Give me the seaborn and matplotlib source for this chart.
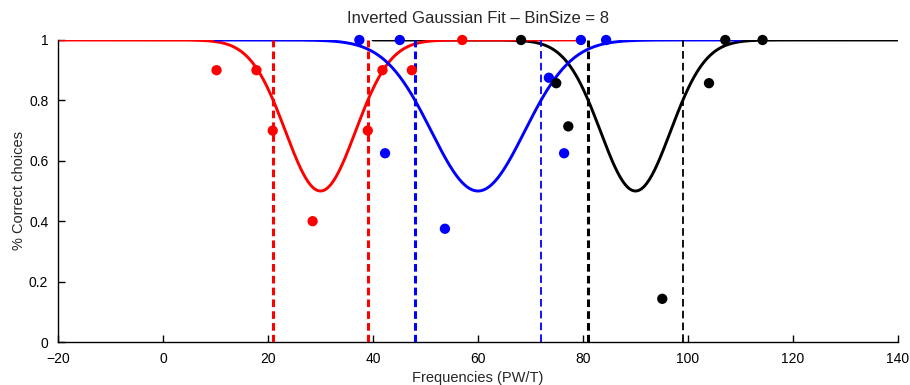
import numpy as np
import pandas as pd
import matplotlib
matplotlib.use("Agg")
import matplotlib.pyplot as plt
import seaborn as sns

# Fitted inverted-Gaussian parameters for each condition
conditions = ["low", "mid", "high"]
colors = ["#ff0000", "#0000ff", "#000000"]
centers = [30.0, 60.0, 90.0]
sigmas = [6.65, 8.86, 6.65]
depths = [0.5, 0.5, 0.5]
fit_half_span = 50.0

# Threshold frequencies (vertical dashed markers)
red_bounds = [21.0, 39.0]
blue_bounds = [48.0, 72.0]
black_bounds = [81.0, 99.0]
bound_widths = [[2.2, 2.2], [2.2, 1.3], [2.2, 1.3]]

# Observed proportions of correct choices per frequency bin
red_x = [10.2, 17.8, 20.9, 28.5, 39.0, 41.8, 47.4, 57.0]
red_y = [0.9, 0.9, 0.7, 0.4, 0.7, 0.9, 0.9, 1.0]
blue_x = [37.4, 45.1, 42.3, 53.7, 73.5, 76.4, 79.6, 84.4]
blue_y = [1.0, 1.0, 0.625, 0.375, 0.875, 0.625, 1.0, 1.0]
black_x = [68.2, 74.9, 77.2, 95.1, 104.0, 107.1, 114.2]
black_y = [1.0, 0.857, 0.714, 0.143, 0.857, 1.0, 1.0]

xticks = [-20, 0, 20, 40, 60, 80, 100, 120, 140]
yticks = [0, 0.2, 0.4, 0.6, 0.8, 1.0]
ytick_labels = ["0", "0.2", "0.4", "0.6", "0.8", "1"]

sns.set_style("ticks")
plt.rcParams["font.family"] = ["Liberation Sans", "DejaVu Sans"]
plt.rcParams["lines.scale_dashes"] = False
plt.rcParams["xtick.direction"] = "in"
plt.rcParams["ytick.direction"] = "in"

fig = plt.figure(figsize=(9.10, 3.85), dpi=100)
ax = fig.add_axes([58 / 910, 43 / 385, 840 / 910, 302 / 385])

# Fitted curves: black first, then red, then blue on top
curve_frames = []
for name, c, mu, sd, d in zip(conditions, colors, centers, sigmas, depths):
    xs = np.linspace(mu - fit_half_span, mu + fit_half_span, 400)
    ys = 1 - d * np.exp(-((xs - mu) ** 2) / (2 * sd ** 2))
    curve_frames.append(pd.DataFrame({"freq": xs, "pc": ys, "cond": name}))
curves = pd.concat(curve_frames, ignore_index=True)

for idx in [2, 0, 1]:
    sub = curves[curves["cond"] == conditions[idx]]
    sub = sub[sub["freq"] >= -20]
    sns.lineplot(data=sub, x="freq", y="pc", color=colors[idx], lw=2.1,
                 ax=ax, sort=False, estimator=None, zorder=2)

# Vertical dashed threshold lines
for bounds, c, widths in zip([red_bounds, blue_bounds, black_bounds], colors, bound_widths):
    for b, w in zip(bounds, widths):
        ax.plot([b, b], [0, 1], color=c, lw=w, linestyle=(0, (5.5, 3.0)),
                dash_capstyle="butt", zorder=3)

# Observed data points
points = pd.DataFrame({
    "freq": red_x + blue_x + black_x,
    "pc": red_y + blue_y + black_y,
    "cond": ["low"] * len(red_x) + ["mid"] * len(blue_x) + ["high"] * len(black_x),
})
sns.scatterplot(data=points, x="freq", y="pc", hue="cond", hue_order=conditions,
                palette=colors, s=55, edgecolor="none", legend=False,
                ax=ax, zorder=4, clip_on=False)

ax.set_xlim(-20, 140)
ax.set_ylim(0, 1)
ax.set_xticks(xticks)
ax.set_xticklabels([f"{t:d}".replace("-", "\u2212") for t in xticks])
ax.set_yticks(yticks)
ax.set_yticklabels(ytick_labels)
ax.tick_params(axis="both", length=5, width=1, labelsize=10, pad=7, colors="black")
for side in ["top", "right"]:
    ax.spines[side].set_visible(False)
for side in ["left", "bottom"]:
    ax.spines[side].set_linewidth(1.0)
    ax.spines[side].set_color("black")

ax.set_xlabel("Frequencies (PW/T)", fontsize=10.5, labelpad=4)
ax.set_ylabel("% Correct choices", fontsize=10.5, labelpad=2)
ax.set_title("Inverted Gaussian Fit \u2013 BinSize = 8", fontsize=12, pad=12)

fig.savefig("out.png", dpi=100, facecolor="white")
